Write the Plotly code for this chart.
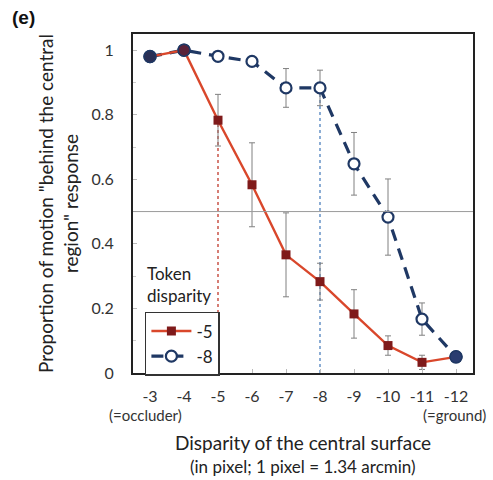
import plotly.graph_objects as go

categories = ["-3", "-4", "-5", "-6", "-7", "-8", "-9", "-10", "-11", "-12"]
tok5 = [0.98, 1.0, 0.783, 0.583, 0.366, 0.283, 0.183, 0.085, 0.033, 0.05]
tok5_err = [0.0, 0.0, 0.08, 0.13, 0.13, 0.057, 0.075, 0.03, 0.022, 0.015]
tok8 = [0.98, 1.0, 0.981, 0.965, 0.883, 0.883, 0.648, 0.483, 0.167, 0.05]
tok8_err = [0.0, 0.0, 0.0, 0.01, 0.06, 0.055, 0.097, 0.118, 0.05, 0.015]
ytick_vals = [0, 0.2, 0.4, 0.6, 0.8, 1.0]
ytick_text = ["0", "0.2", "0.4", "0.6", "0.8", "1"]

FONT = "Lato"
RED_LINE = "#D9472B"
RED_MARK = "#7F1A1A"
NAVY = "#1F3864"
GRAY = "#808080"

fig = go.Figure()

fig.add_shape(type="line", xref="paper", yref="y", x0=0, x1=1, y0=0.5, y1=0.5,
              line=dict(color="#9a9a9a", width=1))

# vertical dotted reference lines
fig.add_trace(go.Scatter(x=[categories[2], categories[2]], y=[0, tok5[2]], mode="lines",
                         line=dict(color="#C0392B", width=1.3, dash="dot"), showlegend=False, hoverinfo="skip"))
fig.add_trace(go.Scatter(x=[categories[5], categories[5]], y=[0, tok8[5]], mode="lines",
                         line=dict(color="#4F81BD", width=1.3, dash="dot"), showlegend=False, hoverinfo="skip"))

# token disparity -8
fig.add_trace(go.Scatter(
    x=categories, y=tok8, mode="lines+markers", name="-8",
    line=dict(color=NAVY, width=3.2, dash="12px,8px"),
    marker=dict(symbol="circle", size=11, color="white", line=dict(color=NAVY, width=2.2)),
    error_y=dict(type="data", array=tok8_err, color=GRAY, thickness=1, width=3),
))

# token disparity -5
fig.add_trace(go.Scatter(
    x=categories, y=tok5, mode="lines+markers", name="-5",
    line=dict(color=RED_LINE, width=2.4),
    marker=dict(symbol="square", size=9, color=RED_MARK),
    error_y=dict(type="data", array=tok5_err, color=GRAY, thickness=1, width=3),
))

# filled overlapping points (ends)
idx = [0, 1, 9]
fig.add_trace(go.Scatter(
    x=[categories[i] for i in idx], y=[tok8[i] for i in idx], mode="markers",
    marker=dict(symbol="circle", size=12, color=["#2A2F55", "#5A2238", "#2A3D70"],
                line=dict(color=NAVY, width=1.5)),
    showlegend=False, hoverinfo="skip"))

fig.update_layout(
    width=493, height=480,
    margin=dict(l=133, r=20, t=34, b=107),
    paper_bgcolor="white", plot_bgcolor="white",
    font=dict(family=FONT, color="#222222", size=15),
    legend=dict(x=0.035, y=0.18, xanchor="left", yanchor="top",
                traceorder="reversed",
                bordercolor="#333333", borderwidth=1.5, bgcolor="white",
                font=dict(size=17, family=FONT, color="#222222"),
                itemwidth=40, tracegroupgap=0),
    showlegend=True,
)

fig.update_xaxes(type="category", categoryorder="array", categoryarray=categories,
                 range=[-0.5, 9.5], showline=True, mirror=True, linecolor="#222222", linewidth=2,
                 ticks="inside", ticklen=4, tickcolor="#bbbbbb", showgrid=False, zeroline=False,
                 ticklabelstandoff=8,
                 tickfont=dict(size=16, family=FONT, color="#333333"))
fig.update_yaxes(range=[0, 1.05], tickvals=ytick_vals, ticktext=ytick_text,
                 showline=True, mirror=True, linecolor="#222222", linewidth=2,
                 ticks="inside", ticklen=4, tickcolor="#bbbbbb", showgrid=False, zeroline=False,
                 minor=dict(dtick=0.1, ticks="inside", ticklen=3, tickcolor="#cccccc"),
                 ticklabelstandoff=14,
                 tickfont=dict(size=16, family=FONT, color="#333333"),
                 title=dict(text='Proportion of motion "behind the central<br>region" response',
                            font=dict(size=19, family=FONT, color="#222222"), standoff=8))

fig.add_annotation(text="<b>(e)</b>", xref="paper", yref="paper", x=-0.362, y=1.05,
                   xanchor="left", yanchor="middle", showarrow=False,
                   font=dict(size=19, family="Liberation Sans", color="#111111"))
fig.add_annotation(text="Token<br>disparity", xref="paper", yref="paper", x=0.035, y=0.33,
                   xanchor="left", yanchor="top", showarrow=False, align="left",
                   font=dict(size=17, family=FONT, color="#222222"))
fig.add_annotation(text="(=occluder)", xref="paper", yref="paper", x=-0.076, y=-0.124,
                   xanchor="left", yanchor="middle", showarrow=False,
                   font=dict(size=15, family=FONT, color="#333333"))
fig.add_annotation(text="(=ground)", xref="paper", yref="paper", x=1.045, y=-0.124,
                   xanchor="right", yanchor="middle", showarrow=False,
                   font=dict(size=15, family=FONT, color="#333333"))
fig.add_annotation(text="Disparity of the central surface", xref="paper", yref="paper", x=0.5, y=-0.206,
                   xanchor="center", yanchor="middle", showarrow=False,
                   font=dict(size=19, family=FONT, color="#222222"))
fig.add_annotation(text="(in pixel; 1 pixel = 1.34 arcmin)", xref="paper", yref="paper", x=0.5, y=-0.277,
                   xanchor="center", yanchor="middle", showarrow=False,
                   font=dict(size=17, family=FONT, color="#222222"))

fig.write_html("out.html")
